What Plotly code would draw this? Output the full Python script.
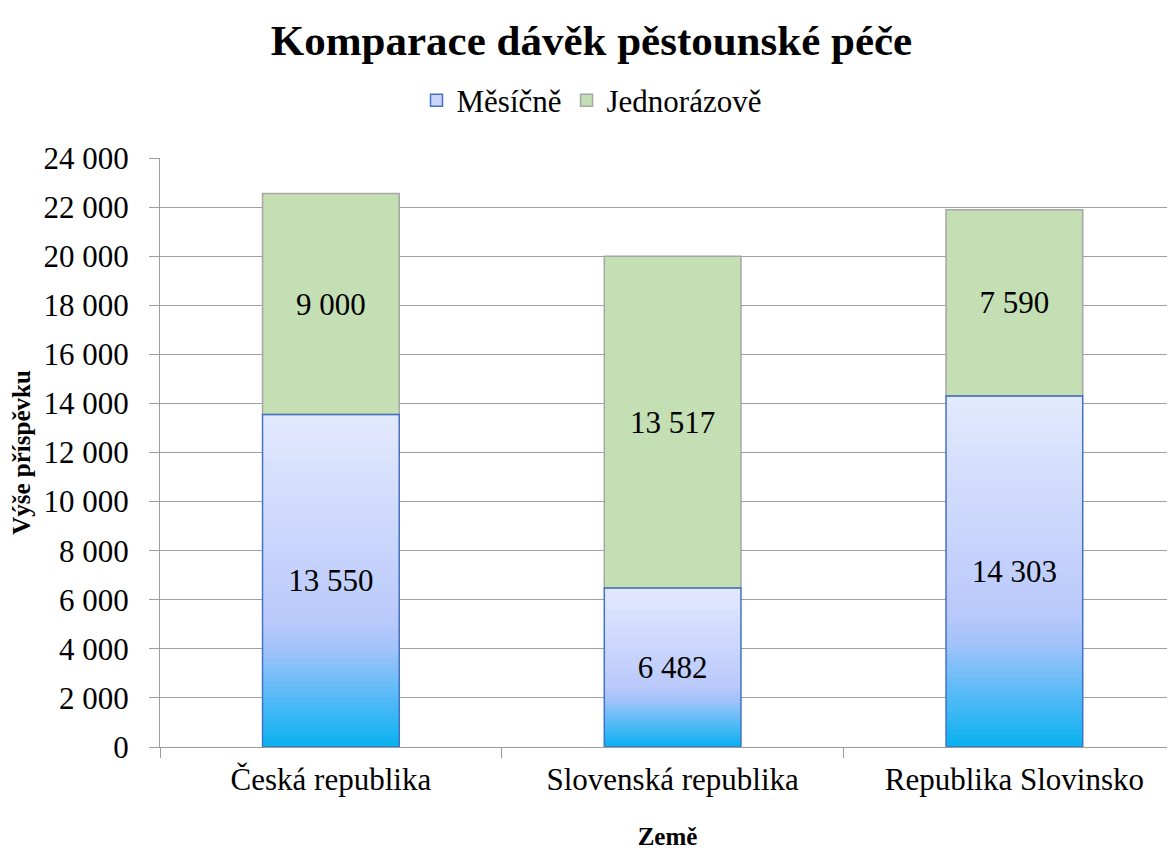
import plotly.graph_objects as go

categories = ["Česká republika", "Slovenská republika", "Republika Slovinsko"]
mesicne = [13550, 6482, 14303]
jednorazove = [9000, 13517, 7590]
series_names = ["Měsíčně", "Jednorázově"]
y_ticks = list(range(0, 24001, 2000))

FONT = "Liberation Serif, Times New Roman, Times, serif"

# gradient stops for the blue fill (fraction of bar height from bottom, rgb)
stops = [(0.0, (8, 176, 240)), (0.12, (70, 185, 245)), (0.3, (165, 195, 250)),
         (0.38, (185, 201, 251)), (1.0, (227, 233, 253))]


def grad(t):
    for (a, ca), (b, cb) in zip(stops[:-1], stops[1:]):
        if a <= t <= b:
            f = (t - a) / (b - a) if b > a else 0
            c = [round(ca[i] + (cb[i] - ca[i]) * f) for i in range(3)]
            return f"rgb({c[0]},{c[1]},{c[2]})"
    return "rgb(227,233,253)"


N = 60
BW = 0.40
fig = go.Figure()
# gradient: overlapping bars from the bottom, tallest first
for k in range(N):
    frac = (N - k) / N
    fig.add_trace(go.Bar(
        x=categories, y=[v * frac for v in mesicne], base=[0, 0, 0],
        width=BW, marker=dict(color=grad(frac - 0.5 / N), line=dict(width=0)),
        showlegend=False, hoverinfo="skip"))

# green segment
fig.add_trace(go.Bar(
    x=categories, y=jednorazove, base=mesicne, width=BW, name=series_names[1],
    marker=dict(color="#c4dfb4", line=dict(color="#a6a6a6", width=1.5)),
    text=jednorazove, texttemplate="%{y:,d}", textposition="inside",
    insidetextanchor="middle", textfont=dict(family=FONT, size=31, color="black"),
    constraintext="none", showlegend=False))

# blue outline + label
fig.add_trace(go.Bar(
    x=categories, y=mesicne, base=[0, 0, 0], width=BW, name=series_names[0],
    marker=dict(color="rgba(0,0,0,0)", line=dict(color="#4472c4", width=1.5)),
    text=mesicne, texttemplate="%{y:,d}", textposition="inside",
    insidetextanchor="middle", textfont=dict(family=FONT, size=31, color="black"),
    constraintext="none", showlegend=False))

# legend entries
fig.add_trace(go.Bar(x=[categories[0]], y=[None], name=series_names[0],
                     marker=dict(color="#c9d5fb", line=dict(color="#4472c4", width=1.5))))
fig.add_trace(go.Bar(x=[categories[0]], y=[None], name=series_names[1],
                     marker=dict(color="#c4dfb4", line=dict(color="#a6a6a6", width=1.5))))

fig.update_layout(
    width=1167, height=842,
    barmode="overlay",
    separators=". ",
    paper_bgcolor="white", plot_bgcolor="white",
    margin=dict(l=152, r=0, t=150, b=103),
    font=dict(family=FONT, size=31, color="black"),
    title=dict(text="<b>Komparace dávěk pěstounské péče</b>", x=0.5, xref="container",
               xanchor="center", y=0.962, yref="container", yanchor="middle",
               font=dict(family=FONT, size=43, color="black")),
    legend=dict(orientation="h", x=0.5, xref="container", xanchor="center",
                y=0.89, yref="container", yanchor="middle",
                font=dict(family=FONT, size=31, color="black"), itemwidth=30,
                tracegroupgap=0),
    xaxis=dict(
        range=[-0.5, 2.47], showline=True, linecolor="#9c9c9c", linewidth=1,
        ticks="outside", tickson="boundaries", ticklen=10, tickcolor="#9c9c9c",
        ticklabelstandoff=5,
        showgrid=False, tickfont=dict(family=FONT, size=31),
        title=dict(text="<b>Země</b>", font=dict(family=FONT, size=25), standoff=34)),
    yaxis=dict(
        range=[0, 24000], tickvals=y_ticks, tickformat=",d",
        showline=True, linecolor="#9c9c9c", linewidth=1,
        ticks="outside", ticklen=10, tickcolor="#9c9c9c", ticklabelstandoff=14,
        showgrid=True, gridcolor="#a0a0a0", gridwidth=1, zeroline=False,
        tickfont=dict(family=FONT, size=31),
        title=dict(text="<b>Výše příspěvku</b>", font=dict(family=FONT, size=25), standoff=10)),
)

fig.write_html("out.html")
